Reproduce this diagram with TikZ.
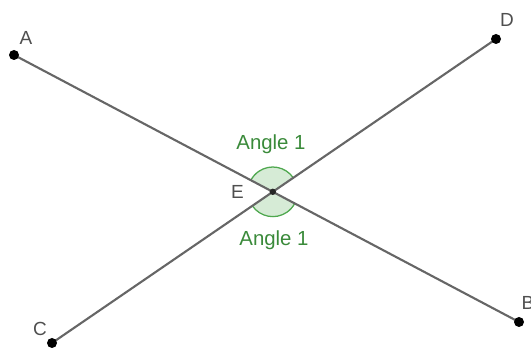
\documentclass[tikz,border=0pt]{standalone}
\usepackage{fontspec}
\setmainfont{Liberation Sans}
\usepackage{tikz}
\usetikzlibrary{angles}
\definecolor{linegray}{HTML}{666666}
\definecolor{textgray}{HTML}{4F4F4F}
\definecolor{anglegreen}{HTML}{4FA84F}
\definecolor{anglefill}{HTML}{D6EBD6}
\definecolor{labelgreen}{HTML}{3A8A3A}

\begin{document}
\begin{tikzpicture}[x=0.025cm,y=0.025cm,
  segment/.style={linegray,line width=1.5pt},
  ptlabel/.style={textgray,font=\fontsize{13.5}{15}\selectfont,inner sep=0pt},
  anglabel/.style={labelgreen,font=\fontsize{14.5}{16}\selectfont,inner sep=0pt},
  angmark/.style={draw=anglegreen,fill=anglefill,line width=0.9pt,angle radius=0.62cm}]
\useasboundingbox (0,0) rectangle (531,352);
% end points
\coordinate (A) at (14,297);
\coordinate (B) at (519,30);
\coordinate (C) at (52,9);
\coordinate (D) at (496,313);
\coordinate (E) at (intersection of A--B and C--D);
% angle marks
\pic[angmark] {angle=D--E--A};
\pic[angmark] {angle=C--E--B};
% the two segments
\draw[segment] (A) -- (B);
\draw[segment] (C) -- (D);
\foreach \p in {A,B,C,D}
  \fill (\p) circle (5);
\fill[black!85] (E) circle (3.2);
% labels
\node[ptlabel] (labA) at (26,314.5) {A};
\node[ptlabel] (labB) at (528,49) {B};
\node[ptlabel] (labC) at (40,23) {C};
\node[ptlabel] (labD) at (507,332) {D};
\node[ptlabel] (labE) at (237.5,160.5) {E};
\node[anglabel] (angtop) at (271,208) {Angle 1};
\node[anglabel] (angbot) at (274,112) {Angle 1};
\end{tikzpicture}
\end{document}
